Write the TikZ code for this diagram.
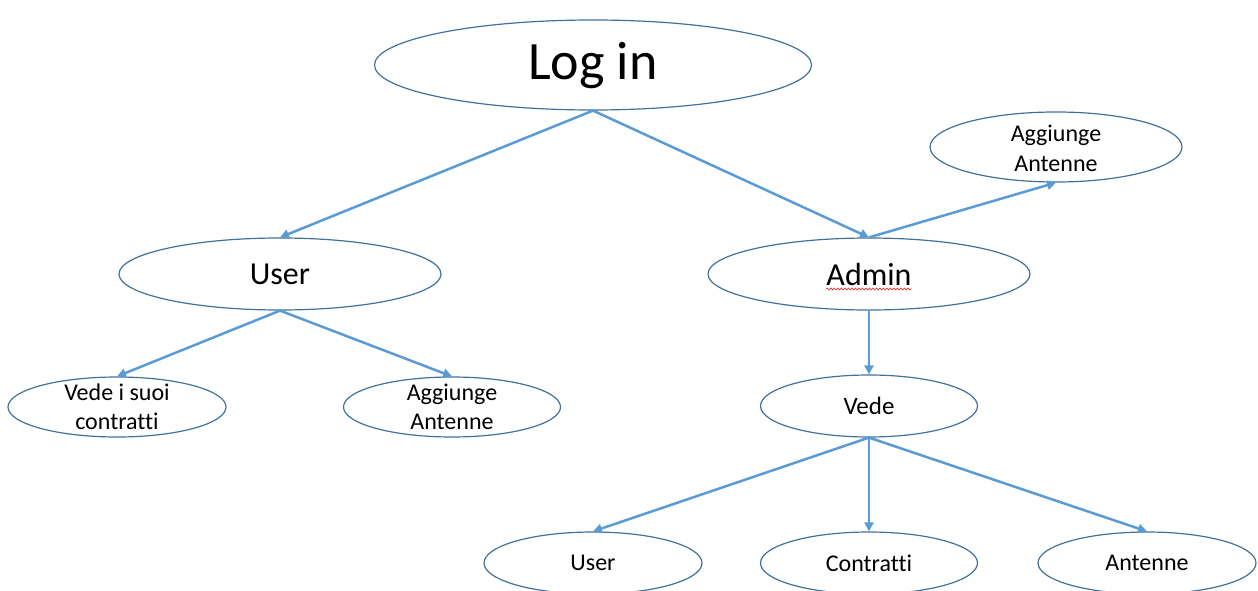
\documentclass[tikz,border=0pt]{standalone}
\usepackage{fontspec}
\setmainfont{Carlito}[Ligatures={NoCommon}]
\usetikzlibrary{shapes.geometric,arrows.meta,decorations.pathmorphing}
\definecolor{ellc}{HTML}{41719C}
\definecolor{arrc}{HTML}{5B9BD5}
\definecolor{squig}{HTML}{E03030}
\tikzset{
  ell/.style={draw=ellc, line width=1.2pt, ellipse, inner sep=0pt, fill=white},
  lbl/.style={inner sep=0pt, align=center, text=black},
  small/.style={lbl, font=\fontsize{24}{29.5}\selectfont},
  mid/.style={lbl, font=\fontsize{32}{38}\selectfont},
  big/.style={lbl, font=\fontsize{54}{64}\selectfont},
  conn/.style={draw=arrc, line width=2.5pt, -{Triangle[length=9pt,width=9pt]}},
}
\begin{document}
\begin{tikzpicture}[x=1pt,y=-1pt]
\useasboundingbox (0,0) rectangle (1258,591);
% ellipses
\node[ell, minimum width=437, minimum height=90] (login) at (593,65) {};
\node[ell, minimum width=322, minimum height=72] (user) at (280,274) {};
\node[ell, minimum width=322, minimum height=72] (admin) at (869,274) {};
\node[ell, minimum width=252, minimum height=70] (aggR) at (1056,147) {};
\node[ell, minimum width=218, minimum height=60] (vedec) at (117,407) {};
\node[ell, minimum width=217, minimum height=60] (aggL) at (452,407) {};
\node[ell, minimum width=217, minimum height=62] (vede) at (869,406) {};
\node[ell, minimum width=218, minimum height=62] (userB) at (593,563) {};
\node[ell, minimum width=217, minimum height=62] (contr) at (869,563) {};
\node[ell, minimum width=218, minimum height=62] (ant) at (1147,563) {};
% labels
\node[big] (loginT) at ([yshift=-1pt]login.center) {Log in};
\node[mid] (userT) at (user.center) {User};
\node[mid] (adminT) at (admin.center) {Admin};
\node[small] (aggRT) at ([yshift=-1.5pt]aggR.center) {Aggiunge\\Antenne};
\node[small] (vedecT) at (vedec.center) {Vede i suoi\\contratti};
\node[small] (aggLT) at (aggL.center) {Aggiunge\\Antenne};
\node[small, font=\fontsize{25}{30}\selectfont] (vedeT) at (vede.center) {Vede};
\node[small] (userBT) at (userB.center) {User};
\node[small] (contrT) at (contr.center) {Contratti};
\node[small] (antT) at (ant.center) {Antenne};
% spell-check squiggle under Admin
\coordinate (sqA) at ([yshift=-4pt]adminT.base west);
\coordinate (sqB) at ([yshift=-4pt]adminT.base east);
\draw[squig, line width=0.7pt, decorate, decoration={snake, amplitude=0.9pt, segment length=3.5pt}] (sqA) -- (sqB);
% connectors
\draw[conn] (login.south) -- (user.north);
\draw[conn] (login.south) -- (admin.north);
\draw[conn] (admin.north) -- (aggR.south);
\draw[conn] (user.south) -- (vedec.north);
\draw[conn] (user.south) -- (aggL.north);
\draw[conn] (admin.south) -- (vede.north);
\draw[conn] (vede.south) -- (userB.north);
\draw[conn] (vede.south) -- (contr.north);
\draw[conn] (vede.south) -- (ant.north);
\end{tikzpicture}
\end{document}
